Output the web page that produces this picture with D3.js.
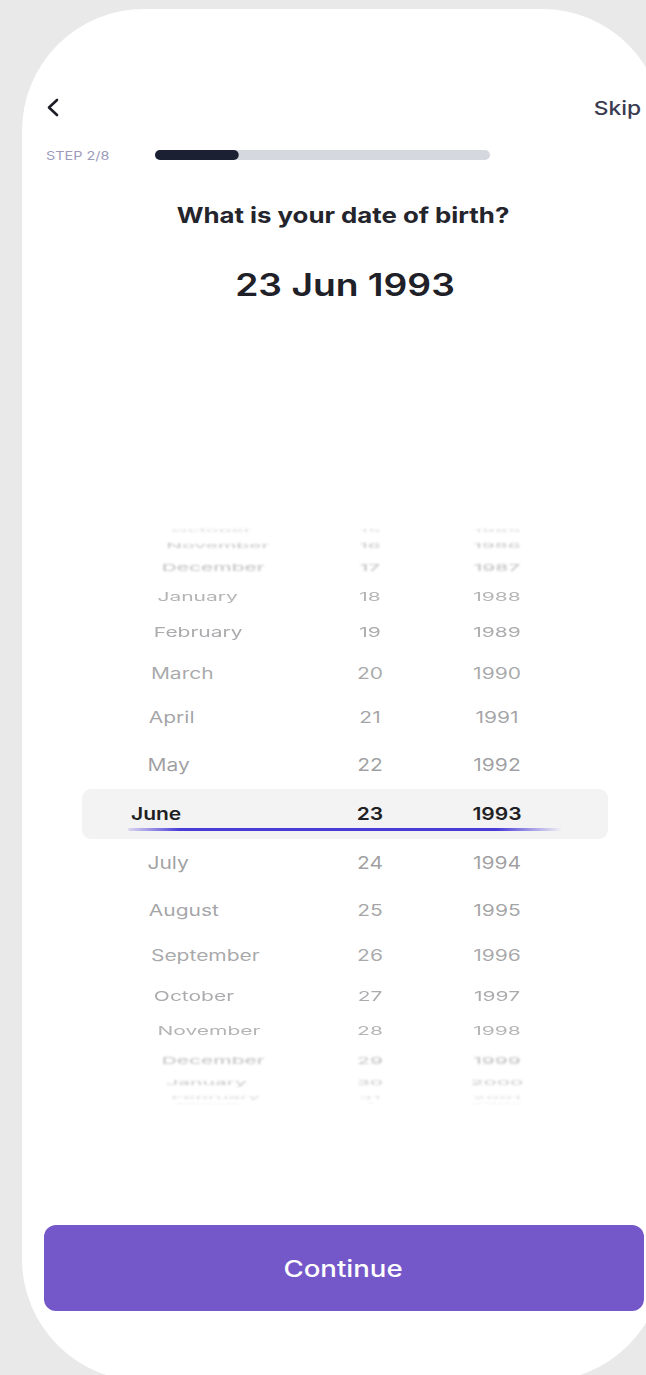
<!DOCTYPE html>
<html>
<head>
<meta charset="utf-8">
<script src="https://cdn.jsdelivr.net/npm/d3@7"></script>
<style>
  html, body { margin: 0; padding: 0; background: #e9e9e9; }
  svg { display: block; }
</style>
</head>
<body>
<svg width="646" height="1375"></svg>
<script>
// Wheel picker content (rows visible, top to bottom)
const monthLabels = ["October", "November", "December", "January", "February", "March", "April", "May",
  "June", "July", "August", "September", "October", "November", "December", "January", "February", "March"];
const dayLabels = ["15", "16", "17", "18", "19", "20", "21", "22", "23", "24", "25", "26", "27", "28", "29", "30", "31", "1"];
const yearLabels = ["1985", "1986", "1987", "1988", "1989", "1990", "1991", "1992", "1993",
  "1994", "1995", "1996", "1997", "1998", "1999", "2000", "2001", "2002"];
const selectedIndex = 8;

// Header text
const stepCurrent = 2, stepTotal = 8;
const question = "What is your date of birth?";
const selectedDate = "23 Jun 1993";
const buttonLabel = "Continue";

const svg = d3.select("svg"),
    width = +svg.attr("width"),
    height = +svg.attr("height");

const font = "Inter, 'Noto Sans', sans-serif";
const wide = 1.2; // the app font is wider than Inter

// helper: text placed with a transform so it can be stretched
function label(parent, x, y, str, opts) {
    const sy = opts.sy || 1;
    return parent.append("text")
        .attr("transform", `translate(${x},${y}) scale(${wide},${sy})`)
        .attr("text-anchor", opts.anchor || "start")
        .attr("dominant-baseline", opts.baseline || "auto")
        .attr("font-family", font)
        .attr("font-size", opts.size)
        .attr("font-weight", opts.weight || 400)
        .attr("fill", opts.fill || "#222")
        .text(str);
}

// phone card
svg.append("rect")
    .attr("x", 22).attr("y", 9)
    .attr("width", 642).attr("height", 1372)
    .attr("rx", 122).attr("ry", 122)
    .attr("fill", "#ffffff");

// back chevron
svg.append("path")
    .attr("d", "M57,100 L49,107.5 L57,115")
    .attr("fill", "none")
    .attr("stroke", "#1d1d26")
    .attr("stroke-width", 2.6)
    .attr("stroke-linecap", "round")
    .attr("stroke-linejoin", "round");

label(svg, 641, 115, "Skip", {anchor: "end", size: 19, weight: 500, fill: "#3b3b52"});

// step label + progress bar
label(svg, 46, 160, `STEP ${stepCurrent}/${stepTotal}`, {size: 12, fill: "#9c9bbb"});

const progress = d3.scaleLinear().domain([0, stepTotal]).range([155, 490]);

svg.append("rect")
    .attr("x", progress(0)).attr("y", 150)
    .attr("width", progress(stepTotal) - progress(0)).attr("height", 10)
    .attr("rx", 5)
    .attr("fill", "#d6d8df");
svg.append("rect")
    .attr("x", progress(0)).attr("y", 150)
    .attr("width", progress(stepCurrent) - progress(0)).attr("height", 10)
    .attr("rx", 5)
    .attr("fill", "#1b2033");

// question + selected date
label(svg, 343, 223, question, {anchor: "middle", size: 21.5, weight: 700, fill: "#24242c"});
label(svg, 345, 296, selectedDate, {anchor: "middle", size: 31, weight: 600, fill: "#202028"});

// ---- wheel picker ----
const centerY = 814, radius = 290;
const angle = d3.scaleLinear().domain([-1, 1]).range([-9.7, 9.7]); // degrees per row
const fade = d3.scaleLinear().domain([1, 4, 7, 9]).range([0.66, 0.58, 0.4, 0.12]).clamp(true);

const defs = svg.append("defs");
[0.4, 0.8, 1.2].forEach((s, i) => {
    defs.append("filter").attr("id", "blur" + i)
        .append("feGaussianBlur").attr("stdDeviation", s);
});
const grad = defs.append("linearGradient").attr("id", "uline")
    .attr("x1", "0%").attr("x2", "100%");
grad.append("stop").attr("offset", "0%").attr("stop-color", "#4a3bd8").attr("stop-opacity", 0.15);
grad.append("stop").attr("offset", "12%").attr("stop-color", "#4a3bd8").attr("stop-opacity", 1);
grad.append("stop").attr("offset", "85%").attr("stop-color", "#4a3bd8").attr("stop-opacity", 1);
grad.append("stop").attr("offset", "100%").attr("stop-color", "#4a3bd8").attr("stop-opacity", 0);

// selection band
svg.append("rect")
    .attr("x", 82).attr("y", 789)
    .attr("width", 526).attr("height", 50)
    .attr("rx", 9)
    .attr("fill", "#f3f3f3");

const rows = monthLabels.map((m, i) => ({
    k: i - selectedIndex,
    month: m,
    day: dayLabels[i],
    year: yearLabels[i]
}));

const rowG = svg.append("g").selectAll("g")
    .data(rows)
    .join("g")
    .attr("filter", d => Math.abs(d.k) >= 8 ? "url(#blur2)" : Math.abs(d.k) >= 6 ? "url(#blur1)" : Math.abs(d.k) >= 4 ? "url(#blur0)" : null);

rowG.each(function(d) {
    const g = d3.select(this);
    const a = angle(d.k) * Math.PI / 180;
    const y = centerY + radius * Math.sin(a);
    const sy = Math.max(Math.cos(a), 0.08);
    const sel = d.k === 0;
    const opts = {
        size: 17.5,
        sy: sy,
        baseline: "central",
        weight: sel ? 600 : 400,
        fill: sel ? "#1f1f24" : "#6f6f73"
    };
    // months drift right as they rotate away
    const mx = sel ? 131 : 147 + 31 * (1 - Math.cos(a));
    label(g, mx, y, d.month, opts);
    label(g, 370, y, d.day, Object.assign({anchor: "middle"}, opts));
    label(g, 497, y, d.year, Object.assign({anchor: "middle"}, opts));
    g.selectAll("text").attr("fill-opacity", sel ? 1 : fade(Math.abs(d.k)));
});

// underline on the selected row
svg.append("rect")
    .attr("x", 128).attr("y", 828)
    .attr("width", 434).attr("height", 3)
    .attr("rx", 1.5)
    .attr("fill", "url(#uline)");

// continue button
svg.append("rect")
    .attr("x", 44).attr("y", 1225)
    .attr("width", 600).attr("height", 86)
    .attr("rx", 12)
    .attr("fill", "#7457c9");
label(svg, 343, 1268, buttonLabel, {anchor: "middle", baseline: "central", size: 23, weight: 500, fill: "#ffffff"});
</script>
</body>
</html>
